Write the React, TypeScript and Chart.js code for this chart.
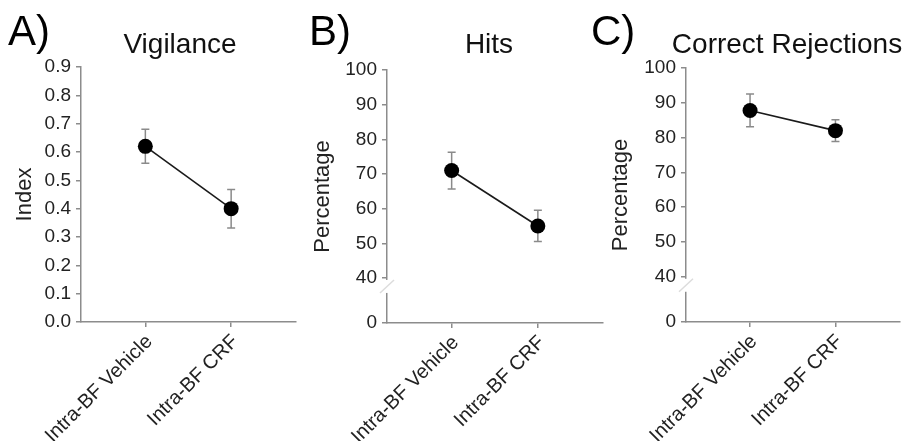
import React, { useEffect, useRef } from 'react';
import { Chart, registerables } from 'chart.js';
Chart.register(...registerables);

const CATEGORIES = ['Intra-BF Vehicle', 'Intra-BF CRF'];

const VIGILANCE_MEAN = [0.62, 0.40];
const VIGILANCE_ERR = [0.06, 0.068];

const HITS_MEAN = [71, 55];
const HITS_ERR = [5.3, 4.5];

const CR_MEAN = [87.8, 82];
const CR_ERR = [4.7, 3.1];

const INDEX_TICKS = [0, 0.1, 0.2, 0.3, 0.4, 0.5, 0.6, 0.7, 0.8, 0.9];
const PERCENT_TICKS = [0, 40, 50, 60, 70, 80, 90, 100];
// Position on the broken axis where the "0" label sits
const PERCENT_BREAK_FLOOR = 27;

const FONT = "'Liberation Sans', Arial, Helvetica, sans-serif";
const AXIS_COLOR = '#8c8c8c';
const H = 441;

type PanelCfg = {
  letter: string;
  title: string;
  yTitle: string;
  mean: number[];
  err: number[];
  ticks: number[];
  min: number;
  max: number;
  floor: number | null;
  decimals: number;
  left: number;
  width: number;
  yAxisWidth: number;
  top: number;
  bottom: number;
  rightPad: number;
  titlePad: number;
  letterX: number;
  titleX: number;
};

const PANELS: PanelCfg[] = [
  {
    letter: 'A)', title: 'Vigilance', yTitle: 'Index',
    mean: VIGILANCE_MEAN, err: VIGILANCE_ERR, ticks: INDEX_TICKS,
    min: 0, max: 0.9, floor: null, decimals: 1,
    left: 0, width: 303, yAxisWidth: 81, top: 67, bottom: 322, rightPad: 1,
    titlePad: 14, letterX: 8, titleX: 180,
  },
  {
    letter: 'B)', title: 'Hits', yTitle: 'Percentage',
    mean: HITS_MEAN, err: HITS_ERR, ticks: PERCENT_TICKS,
    min: PERCENT_BREAK_FLOOR, max: 100, floor: PERCENT_BREAK_FLOOR, decimals: 0,
    left: 303, width: 307, yAxisWidth: 84, top: 70, bottom: 323, rightPad: 4,
    titlePad: 9, letterX: 6, titleX: 186,
  },
  {
    letter: 'C)', title: 'Correct Rejections', yTitle: 'Percentage',
    mean: CR_MEAN, err: CR_ERR, ticks: PERCENT_TICKS,
    min: PERCENT_BREAK_FLOOR, max: 100, floor: PERCENT_BREAK_FLOOR, decimals: 0,
    left: 590, width: 317, yAxisWidth: 96, top: 68, bottom: 322, rightPad: 2,
    titlePad: 20, letterX: 1, titleX: 197,
  },
];

const decorPlugin = {
  id: 'panelDecor',
  beforeDatasetsDraw(chart: any, _args: any, opts: any) {
    const { ctx } = chart;
    const xs = chart.scales.x;
    const ys = chart.scales.y;
    ctx.save();
    ctx.strokeStyle = '#8a8a8a';
    ctx.lineWidth = 1.5;
    opts.mean.forEach((m: number, i: number) => {
      const x = xs.getPixelForValue(i + 1);
      const yTop = ys.getPixelForValue(m + opts.err[i]);
      const yBot = ys.getPixelForValue(m - opts.err[i]);
      ctx.beginPath();
      ctx.moveTo(x, yTop);
      ctx.lineTo(x, yBot);
      ctx.moveTo(x - 4, yTop);
      ctx.lineTo(x + 4, yTop);
      ctx.moveTo(x - 4, yBot);
      ctx.lineTo(x + 4, yBot);
      ctx.stroke();
    });
    ctx.restore();
  },
  afterDraw(chart: any, _args: any, opts: any) {
    const { ctx } = chart;
    ctx.save();
    ctx.fillStyle = '#000';
    ctx.textBaseline = 'alphabetic';
    ctx.textAlign = 'left';
    ctx.font = `42px ${FONT}`;
    ctx.fillText(opts.letter, opts.letterX, 45);
    ctx.fillStyle = '#111';
    ctx.textAlign = 'center';
    ctx.font = `28px ${FONT}`;
    ctx.fillText(opts.title, opts.titleX, 53);

    if (opts.floor !== null) {
      const ys = chart.scales.y;
      const ax = chart.chartArea.left;
      const y40 = ys.getPixelForValue(40);
      const gTop = y40 + 2;
      const gBot = y40 + 15;
      ctx.fillStyle = '#fff';
      ctx.fillRect(ax - 3, gTop, 6, gBot - gTop);
      ctx.strokeStyle = '#dcdcdc';
      ctx.lineWidth = 1.5;
      ctx.beginPath();
      ctx.moveTo(ax - 7, gBot);
      ctx.lineTo(ax + 7, gTop);
      ctx.stroke();
    }
    ctx.restore();
  },
};

function Panel({ cfg }: { cfg: PanelCfg }) {
  const ref = useRef<HTMLCanvasElement>(null);
  useEffect(() => {
    if (!ref.current) return;
    const chart = new Chart(ref.current, {
      type: 'line',
      data: {
        datasets: [
          {
            data: cfg.mean.map((v, i) => ({ x: i + 1, y: v })),
            borderColor: '#1a1a1a',
            borderWidth: 1.6,
            pointRadius: 7.5,
            pointHoverRadius: 7.5,
            pointBackgroundColor: '#000',
            pointBorderColor: '#000',
            pointBorderWidth: 0,
            clip: false as any,
          },
        ],
      },
      options: {
        animation: false,
        responsive: false,
        events: [],
        layout: { padding: { top: cfg.top, right: cfg.rightPad, left: 0, bottom: 0 } },
        plugins: {
          legend: { display: false },
          tooltip: { enabled: false },
          panelDecor: cfg,
        } as any,
        scales: {
          x: {
            type: 'linear',
            min: 0.25,
            max: 2.75,
            afterBuildTicks: (s: any) => {
              s.ticks = CATEGORIES.map((_, i) => ({ value: i + 1 }));
            },
            afterFit: (s: any) => {
              s.height = H - cfg.bottom;
            },
            ticks: {
              minRotation: 45,
              maxRotation: 45,
              autoSkip: false,
              padding: 3,
              labelOffset: 4,
              color: '#222',
              font: { family: FONT, size: 20 },
              callback: (v: any) => CATEGORIES[Math.round(v) - 1] ?? '',
            },
            grid: {
              display: true,
              drawOnChartArea: false,
              drawTicks: true,
              tickLength: 5,
              color: AXIS_COLOR,
              lineWidth: 1.5,
            },
            border: { display: true, color: AXIS_COLOR, width: 1.5 },
          },
          y: {
            type: 'linear',
            min: cfg.min,
            max: cfg.max,
            afterBuildTicks: (s: any) => {
              s.ticks = cfg.ticks.map((v) => ({
                value: v === 0 && cfg.floor !== null ? cfg.floor : v,
              }));
            },
            afterFit: (s: any) => {
              s.width = cfg.yAxisWidth;
            },
            ticks: {
              padding: 5,
              color: '#222',
              font: { family: FONT, size: 19 },
              callback: (v: any) =>
                cfg.floor !== null && v === cfg.floor ? '0' : Number(v).toFixed(cfg.decimals),
            },
            grid: {
              display: true,
              drawOnChartArea: false,
              drawTicks: true,
              tickLength: 5,
              color: AXIS_COLOR,
              lineWidth: 1.5,
            },
            border: { display: true, color: AXIS_COLOR, width: 1.5 },
            title: {
              display: true,
              text: cfg.yTitle,
              color: '#222',
              font: { family: FONT, size: 22, lineHeight: 1 },
              padding: { top: cfg.titlePad, bottom: 0 },
            },
          },
        },
      } as any,
      plugins: [decorPlugin],
    });
    return () => chart.destroy();
  }, [cfg]);
  return (
    <canvas
      ref={ref}
      width={cfg.width}
      height={H}
      style={{ position: 'absolute', left: cfg.left, top: 0, width: cfg.width, height: H }}
    />
  );
}

export default function App() {
  useEffect(() => {
    document.body.style.margin = '0';
    document.body.style.background = '#fff';
  }, []);
  return (
    <div style={{ position: 'relative', width: 907, height: H, overflow: 'hidden', background: '#fff' }}>
      {PANELS.map((p) => (
        <Panel key={p.letter} cfg={p} />
      ))}
    </div>
  );
}
